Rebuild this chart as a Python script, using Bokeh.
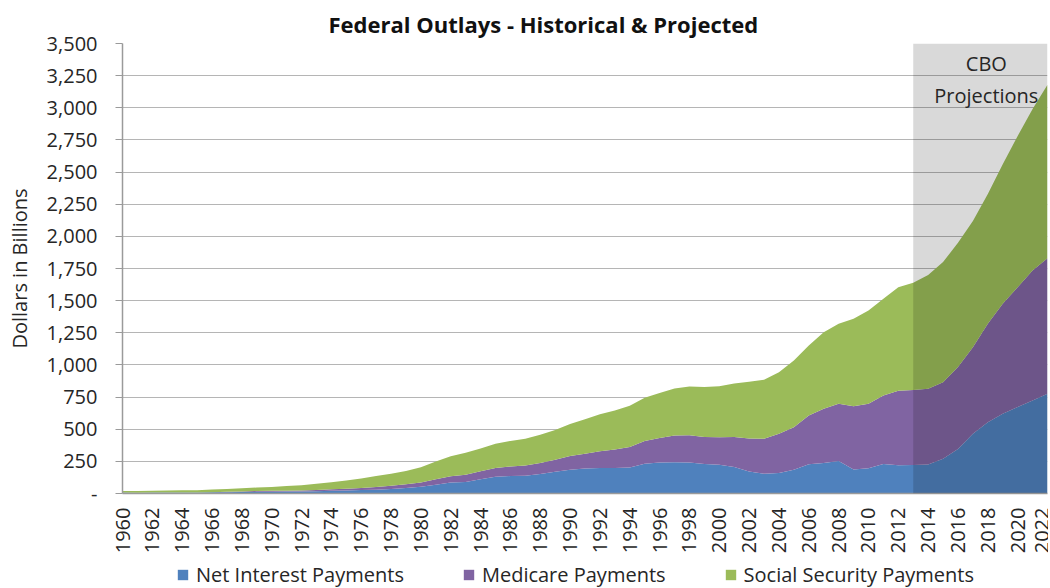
import math
from bokeh.plotting import figure
from bokeh.layouts import column
from bokeh.models import (Range1d, FixedTicker, NumeralTickFormatter, BoxAnnotation,
                          Label, Legend, LegendItem, ColumnDataSource)
from bokeh.embed import file_html
from bokeh.resources import INLINE

years = list(range(1960, 2023))

net_interest = [6.9, 6.7, 6.9, 7.7, 8.2, 8.6, 9.4, 10.3, 11.1, 12.7,
                14.4, 14.8, 15.5, 17.3, 21.4, 23.2, 26.7, 29.9, 35.5, 42.6,
                52.5, 68.8, 85.0, 89.8, 111.1, 129.5, 136.0, 138.6, 151.8, 169.0,
                184.3, 194.4, 199.3, 198.7, 202.9, 232.1, 241.1, 244.0, 241.1, 229.8,
                223, 206, 171, 153, 160, 184, 227, 237, 253, 187,
                196, 230, 220, 222, 226, 270, 347, 464, 555, 620,
                672, 723, 775]

medicare = [0, 0, 0, 0, 0, 0, 0.1, 3.2, 5.1, 6.3,
            6.8, 7.5, 8.4, 9.0, 10.7, 14.1, 16.9, 21.5, 24.9, 29.1,
            34.0, 41.3, 49.2, 55.5, 61.0, 69.6, 74.2, 79.9, 85.7, 93.2,
            107.0, 114.2, 129.4, 143.2, 159.6, 177.1, 191.3, 207.9, 211.0, 209.3,
            215, 234, 257, 272, 304, 332, 380, 422, 445, 492,
            502, 532, 580, 583, 588, 596, 636, 674, 765, 855,
            933, 1012, 1055]

social_security = [11.6, 12.5, 14.4, 15.8, 16.6, 17.5, 20.7, 21.7, 23.9, 27.3,
                   30.3, 35.9, 40.2, 49.1, 55.9, 64.7, 73.9, 85.1, 93.9, 104.1,
                   118.5, 139.6, 156.0, 170.7, 178.2, 188.6, 198.8, 207.4, 219.3, 232.5,
                   248.6, 269.0, 287.6, 304.6, 319.6, 335.8, 349.7, 365.3, 379.2, 390.0,
                   397, 415, 442, 460, 480, 519, 544, 596, 622, 680,
                   726, 752, 805, 835, 886, 934, 967, 982, 1010, 1085,
                   1175, 1255, 1350]

series_names = ["Net Interest Payments", "Medicare Payments", "Social Security Payments"]
series_colors = ["#4F81BD", "#8064A2", "#9BBB59"]
projection_start = 2013
y_ticks = list(range(0, 3501, 250))
x_ticks = list(range(1960, 2023, 2))

FONT = "Open Sans"
TEXT = "#262626"

src = ColumnDataSource(dict(year=years, ni=net_interest, med=medicare, ss=social_security))

p = figure(width=1048, height=558, x_range=Range1d(1960, 2022), y_range=Range1d(0, 3500),
           output_backend="svg", toolbar_location=None,
           min_border_left=122, min_border_right=1, min_border_top=43, min_border_bottom=65)

rs = p.varea_stack(stackers=["ni", "med", "ss"], x="year", color=series_colors, source=src)

# projection shading
p.add_layout(BoxAnnotation(left=projection_start, fill_color="black", fill_alpha=0.15,
                           line_color=None, level="annotation"))
p.add_layout(Label(x=2017.9, y=3344, text="CBO", text_align="center", text_baseline="middle",
                   text_font=FONT, text_font_size="20px", text_color=TEXT))
p.add_layout(Label(x=2017.9, y=3096, text="Projections", text_align="center",
                   text_baseline="middle", text_font=FONT, text_font_size="20px",
                   text_color=TEXT))

# title
p.title.text = "Federal Outlays - Historical & Projected"
p.title.text_font = FONT
p.title.text_font_size = "22px"
p.title.text_font_style = "bold"
p.title.text_color = "#111111"
p.title.align = "left"
p.title.offset = 206

# axes
p.outline_line_color = None
p.background_fill_color = "white"
p.border_fill_color = "white"

yax = p.yaxis[0]
yax.ticker = FixedTicker(ticks=y_ticks)
yax.formatter = NumeralTickFormatter(format="0,0")
yax.major_label_overrides = {0: "-"}
yax.axis_label = "Dollars in Billions"
yax.axis_label_text_font = FONT
yax.axis_label_text_font_size = "20px"
yax.axis_label_text_font_style = "normal"
yax.axis_label_text_color = TEXT
yax.axis_label_standoff = 11
yax.major_label_text_font = FONT
yax.major_label_text_font_size = "20px"
yax.major_label_text_color = TEXT
yax.axis_line_color = "#9a9a9a"
yax.axis_line_width = 1.5
yax.major_tick_line_color = "#9a9a9a"
yax.major_tick_out = 7
yax.major_tick_in = 0
yax.minor_tick_line_color = None
yax.major_label_standoff = 18

xax = p.xaxis[0]
xax.ticker = FixedTicker(ticks=x_ticks)
xax.major_label_orientation = math.pi / 2
xax.major_label_text_font = FONT
xax.major_label_text_font_size = "20px"
xax.major_label_text_color = TEXT
xax.axis_line_color = "#9a9a9a"
xax.axis_line_width = 1.5
xax.major_tick_out = 0
xax.major_tick_in = 0
xax.minor_tick_line_color = None
xax.major_label_standoff = 14

p.xgrid.grid_line_color = None
p.ygrid.ticker = FixedTicker(ticks=y_ticks)
p.ygrid.grid_line_color = "#b5b5b5"
p.ygrid.grid_line_width = 1.2

# legend strip below the chart (its stacked areas lie outside its visible range)
lg = figure(width=1048, height=30, x_range=Range1d(0, 1), y_range=Range1d(0, 1),
            output_backend="svg", toolbar_location=None,
            min_border_left=0, min_border_right=0, min_border_top=0, min_border_bottom=0)
lg.axis.visible = False
lg.grid.grid_line_color = None
lg.outline_line_color = None
lg_rs = lg.varea_stack(stackers=["ni", "med", "ss"], x="year", color=series_colors, source=src)
legend = Legend(items=[LegendItem(label=n, renderers=[r]) for n, r in zip(series_names, lg_rs)],
                orientation="horizontal", location=(54, 0),
                label_text_font=FONT, label_text_font_size="20px", label_text_color=TEXT,
                glyph_width=13, glyph_height=13, spacing=58, padding=0, margin=0,
                label_standoff=7, border_line_color=None, background_fill_alpha=0)
lg.add_layout(legend)

layout = column(p, lg, spacing=0)
open("out.html", "w").write(file_html(layout, INLINE))
